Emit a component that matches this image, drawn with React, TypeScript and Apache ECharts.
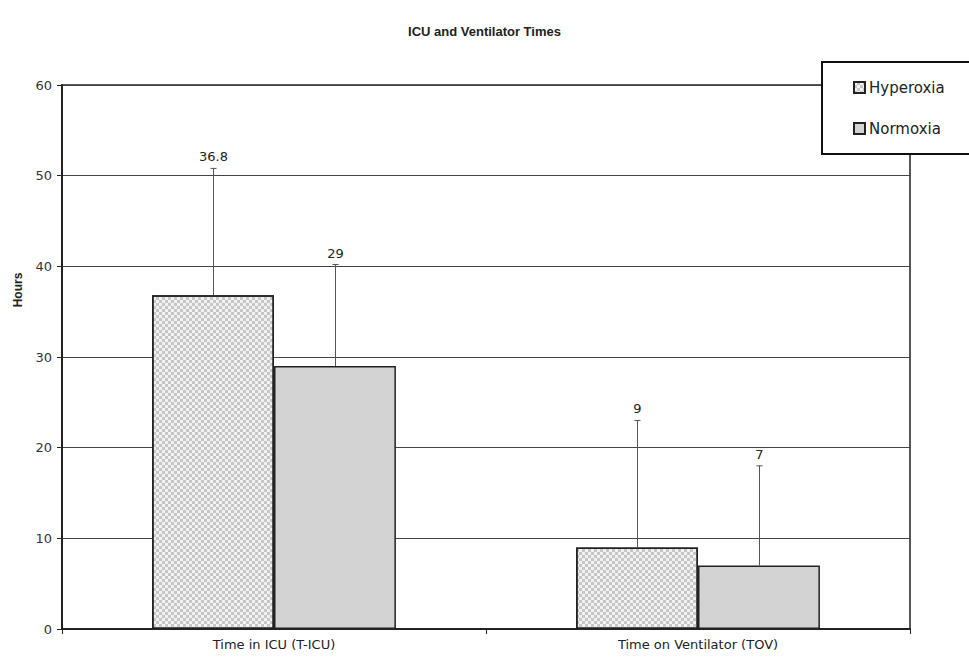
import React, { useEffect, useRef } from "react";
import * as echarts from "echarts";

const categories = ["Time in ICU (T-ICU)", "Time on Ventilator (TOV)"];
const seriesNames = ["Hyperoxia", "Normoxia"];
const hyperoxiaMeans = [36.8, 9];
const normoxiaMeans = [29, 7];
const hyperoxiaUpper = [50.8, 23];
const normoxiaUpper = [40.2, 18];
const hyperoxiaLabels = ["36.8", "9"];
const normoxiaLabels = ["29", "7"];
const yTicks = [0, 10, 20, 30, 40, 50, 60];

const FONT = "'Liberation Sans', Arial, sans-serif";
const WIDE = "'DejaVu Sans', sans-serif";
const GAP = 0.425;

function errorRenderer(side: number, labels: string[]) {
  return (params: any, api: any) => {
    const i = api.value(0);
    const upper = api.value(1);
    const mean = api.value(2);
    const band = api.size([1, 0])[0];
    const barW = (band * (1 - GAP)) / 2;
    const c = api.coord([i, mean]);
    const t = api.coord([i, upper]);
    const x = Math.round(c[0] + side * barW / 2) + 0.5;
    return {
      type: "group",
      children: [
        {
          type: "line",
          shape: { x1: x, y1: c[1], x2: x, y2: t[1] },
          style: { stroke: "#555", lineWidth: 1 },
        },
        {
          type: "line",
          shape: { x1: x - 3, y1: t[1], x2: x + 3, y2: t[1] },
          style: { stroke: "#555", lineWidth: 1 },
        },
        {
          type: "text",
          x: x,
          y: t[1] - 5,
          style: {
            text: labels[i],
            fontSize: 13,
            fontFamily: WIDE,
            fill: "#222",
            textAlign: "center",
            textVerticalAlign: "bottom",
          },
        },
      ],
    };
  };
}

export default function App() {
  const ref = useRef<HTMLDivElement>(null);
  useEffect(() => {
    document.body.style.margin = "0";
    const chart = echarts.init(ref.current!, null, { renderer: "svg" });
    chart.setOption({
      animation: false,
      backgroundColor: "#fff",
      title: {
        text: "ICU and Ventilator Times",
        left: "center",
        top: 20,
        textStyle: { fontSize: 13, fontWeight: "bold", fontFamily: FONT, color: "#222" },
      },
      graphic: [
        {
          type: "rect",
          shape: { x: 822, y: 62, width: 170, height: 92 },
          style: { fill: "#fff", stroke: "#111", lineWidth: 2 },
          z: 5,
        },
        {
          type: "text",
          x: 18,
          y: 290,
          rotation: Math.PI / 2,
          style: {
            text: "Hours",
            fontSize: 12,
            fontWeight: "bold",
            fontFamily: FONT,
            fill: "#222",
            textAlign: "center",
            textVerticalAlign: "middle",
          },
        },
      ],
      legend: {
        data: seriesNames,
        orient: "vertical",
        left: 848,
        top: 75,
        itemGap: 26,
        itemWidth: 11,
        itemHeight: 11,
        icon: "rect",
        z: 10,
        textStyle: { fontSize: 15, fontFamily: WIDE, color: "#222", padding: [0, 0, 0, -1] },
      },
      grid: {
        left: 62,
        right: 59,
        top: 85,
        bottom: 29,
        show: true,
        borderColor: "#222",
        borderWidth: 1.5,
        backgroundColor: "transparent",
      },
      xAxis: {
        type: "category",
        data: categories,
        axisLine: { lineStyle: { color: "#222", width: 2 } },
        axisTick: { show: true, length: 5, lineStyle: { color: "#222" } },
        axisLabel: { fontSize: 13, fontFamily: WIDE, color: "#222", margin: 9 },
      },
      yAxis: {
        type: "value",
        min: yTicks[0],
        max: yTicks[yTicks.length - 1],
        interval: 10,
        axisLine: { show: true, lineStyle: { color: "#222", width: 2 } },
        axisTick: { show: true, length: 5, lineStyle: { color: "#222" } },
        axisLabel: { fontSize: 13, fontFamily: WIDE, color: "#333", margin: 10 },
        splitLine: { show: true, lineStyle: { color: "#444", width: 1 } },
      },
      series: [
        {
          name: seriesNames[0],
          type: "bar",
          data: hyperoxiaMeans,
          barGap: "0%",
          barCategoryGap: "42.5%",
          itemStyle: {
            color: "#f2f2f2",
            borderColor: "#222",
            borderWidth: 1.5,
            decal: {
              symbol: "rect",
              symbolSize: 1,
              color: "rgba(0,0,0,0.18)",
              dashArrayX: [[3, 3], [0, 3, 3, 0]],
              dashArrayY: [3, 0],
              rotation: 0,
            },
          },
          z: 2,
        },
        {
          name: seriesNames[1],
          type: "bar",
          data: normoxiaMeans,
          barGap: "0%",
          barCategoryGap: "42.5%",
          itemStyle: {
            color: "#d3d3d3",
            borderColor: "#222",
            borderWidth: 1.5,
          },
          z: 2,
        },
        {
          name: "errH",
          type: "custom",
          data: hyperoxiaMeans.map((m, i) => [i, hyperoxiaUpper[i], m]),
          renderItem: errorRenderer(-1, hyperoxiaLabels),
          encode: { x: 0, y: 1 },
          z: 3,
          silent: true,
        },
        {
          name: "errN",
          type: "custom",
          data: normoxiaMeans.map((m, i) => [i, normoxiaUpper[i], m]),
          renderItem: errorRenderer(1, normoxiaLabels),
          encode: { x: 0, y: 1 },
          z: 3,
          silent: true,
        },
      ],
    });
    return () => chart.dispose();
  }, []);
  return (
    <div
      ref={ref}
      style={{ position: "fixed", left: 0, top: 0, width: 969, height: 658 }}
    />
  );
}
